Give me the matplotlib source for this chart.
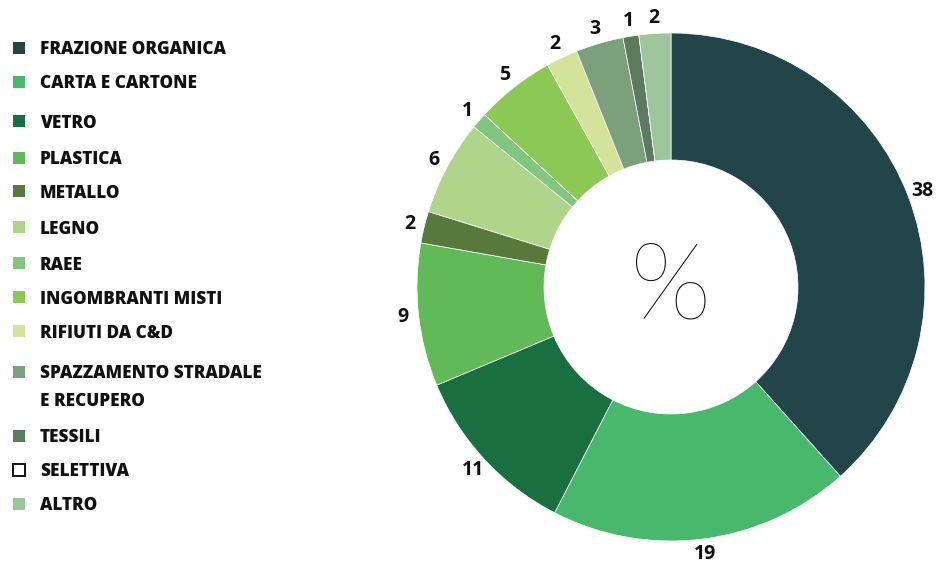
import matplotlib
matplotlib.use("Agg")
import matplotlib.pyplot as plt
import numpy as np
from matplotlib.patches import Rectangle

categories = [
    "FRAZIONE ORGANICA", "CARTA E CARTONE", "VETRO", "PLASTICA", "METALLO",
    "LEGNO", "RAEE", "INGOMBRANTI MISTI", "RIFIUTI DA C&D",
    "SPAZZAMENTO STRADALE\nE RECUPERO", "TESSILI", "SELETTIVA", "ALTRO",
]
values = [38, 19, 11, 9, 2, 6, 1, 5, 2, 3, 1, 0, 2]
colors = [
    "#22454A", "#48B86C", "#1A6F40", "#62B958", "#57793C",
    "#AFD58A", "#81C67F", "#8CC854", "#D4E39A",
    "#7DA07C", "#5C7A5E", "#FFFFFF", "#9DC49C",
]

W, H = 936, 563
fig = plt.figure(figsize=(W / 100, H / 100), dpi=100)

# donut chart
cx, cy, R = 671, 287, 254
ax = fig.add_axes([(cx - R) / W, (H - cy - R) / H, 2 * R / W, 2 * R / H])
wedges, _ = ax.pie(values, colors=colors, startangle=90, counterclock=False,
                   radius=1.0, wedgeprops=dict(width=0.5, edgecolor="white", linewidth=0.5))
ax.set_xlim(-1, 1)
ax.set_ylim(-1, 1)
ax.set_aspect("equal")
ax.axis("off")

for w, v in zip(wedges, values):
    if v == 0:
        continue
    ang = np.deg2rad((w.theta1 + w.theta2) / 2)
    r = 1.06
    ax.text(r * np.cos(ang), r * np.sin(ang), str(v), ha="center", va="center",
            fontsize=14, fontweight="bold", family="Open Sans", color="#111111",
            clip_on=False)

ax.text(0, -0.01, "%", ha="center", va="center", fontsize=77, fontweight="light",
        family="Lato", color="#111111")

# legend
legend_y = [48, 82, 121, 158, 191, 227, 263, 297, 331, 372, 436, 470, 504]
text_kw = dict(ha="left", va="center", fontsize=12.3, fontweight="heavy",
               family="Open Sans", color="#111111")
for name, col, y in zip(categories, colors, legend_y):
    is_empty = col == "#FFFFFF"
    fig.add_artist(Rectangle((13 / W, (H - y - 6) / H), 12 / W, 12 / H,
                             transform=fig.transFigure, facecolor=col,
                             edgecolor="#111111" if is_empty else col,
                             linewidth=1.4 if is_empty else 0))
    for i, line in enumerate(name.split("\n")):
        fig.text(40 / W, (H - y - 2 - 28 * i) / H, line, **text_kw)

fig.savefig("out.png", dpi=100, facecolor="white")
